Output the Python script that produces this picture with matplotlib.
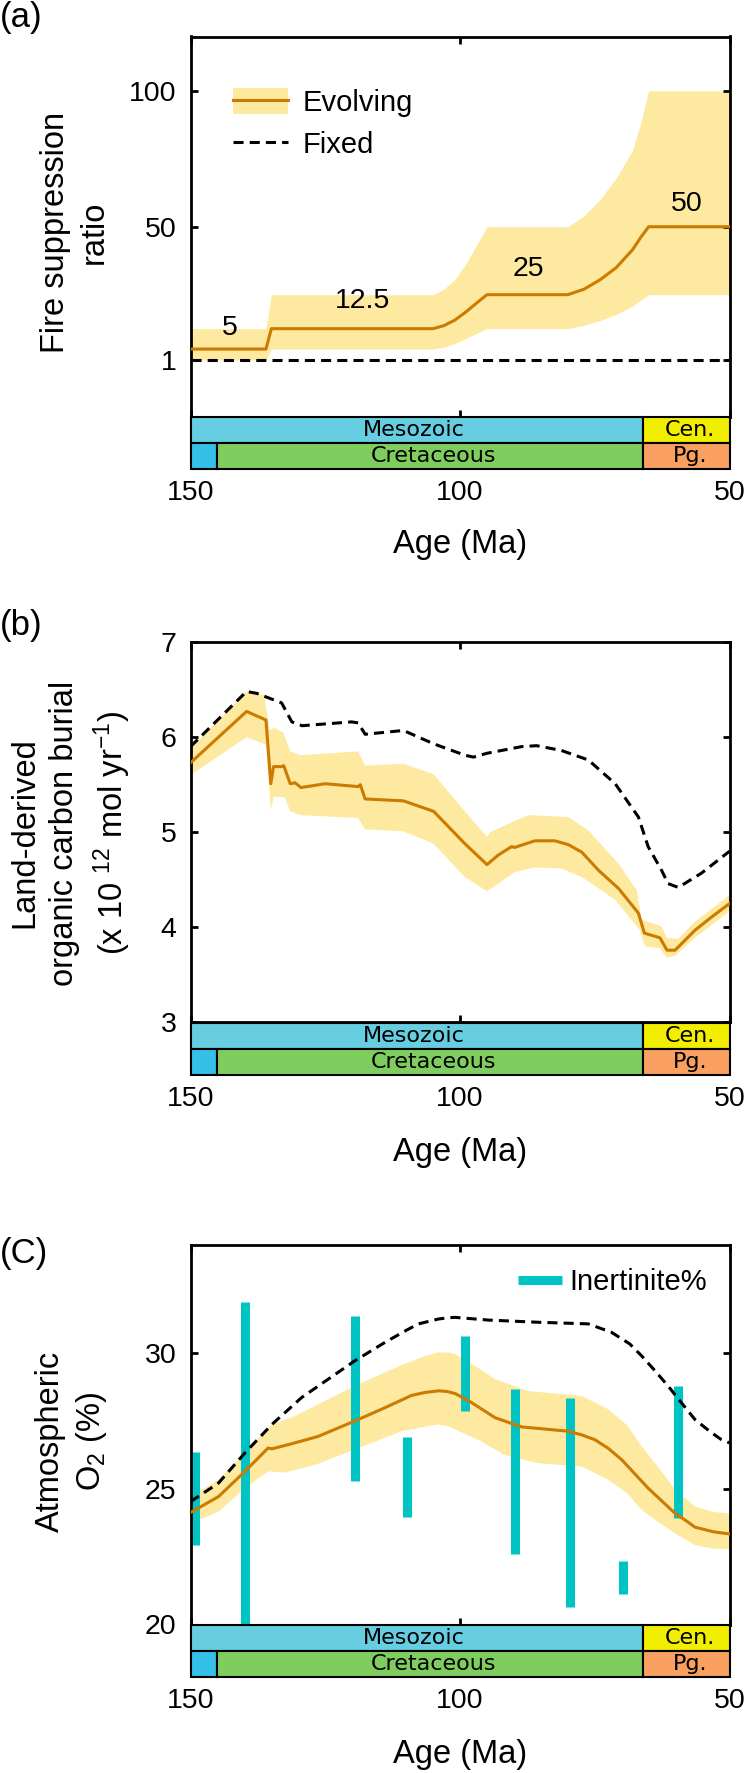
import numpy as np
import matplotlib
matplotlib.use('Agg')
import matplotlib.pyplot as plt
from matplotlib.patches import Patch
from matplotlib.lines import Line2D

plt.rcParams['font.family'] = ['Liberation Sans', 'DejaVu Sans']
plt.rcParams['mathtext.fontset'] = 'custom'
plt.rcParams['mathtext.rm'] = 'Liberation Sans'
plt.rcParams['mathtext.it'] = 'Liberation Sans:italic'
plt.rcParams['mathtext.default'] = 'regular'

# ---- colours
c_line = '#CC7A00'
c_band = '#FDE9A0'
c_inert = '#00C4C4'

# ---- panel (a): fire suppression ratio
a_age = [150, 136, 135, 105, 103, 101, 99, 97, 95, 80, 77, 74, 71, 68, 66.5, 65, 50]
a_mid = [5, 5, 12.5, 12.5, 13.6, 15.6, 18.5, 21.8, 25, 25, 27, 30.5, 35, 41.5, 46, 50, 50]
a_low = [1, 1, 5, 5, 5.7, 7.0, 8.8, 10.7, 12.5, 12.5, 13.8, 15.5, 17.8, 20.8, 23, 25, 25]
a_high = [12.5, 12.5, 25, 25, 27, 30.5, 36, 43, 50, 50, 54, 60, 68, 78, 88, 100, 100]
a_fix_age = [150, 50]
a_fix = [1, 1]
a_note_txt = ['5', '12.5', '25', '50']
a_note_age = [142.7, 118.1, 87.3, 58.0]
a_note_val = [12.8, 22.6, 34.4, 58.4]

# ---- panel (b): land-derived organic carbon burial
b_age = [150, 139.6, 136, 135.1, 134.6, 133.1, 132.7, 131.5, 130.6, 129.5, 125, 118.9,
         118.5, 117.6, 110.5, 104.9, 99.1, 95.0, 92.9, 90.4, 89.9, 86.1, 82.4, 79.9,
         77.4, 74.3, 70.6, 66.9, 65.8, 62.9, 61.6, 60.1, 56.4, 53.3, 50]
b_mid = [5.73, 6.27, 6.18, 5.51, 5.69, 5.69, 5.70, 5.51, 5.52, 5.47, 5.51, 5.48,
         5.50, 5.35, 5.33, 5.22, 4.88, 4.66, 4.76, 4.85, 4.84, 4.91, 4.91, 4.87,
         4.79, 4.60, 4.41, 4.15, 3.94, 3.89, 3.76, 3.76, 3.97, 4.11, 4.25]
b_hi_age = [150, 139.6, 136.3, 135.3, 134.5, 132.8, 131.5, 129.6, 118.9, 117.6, 110.5,
            104.9, 99.1, 95.0, 94.4, 89.8, 87.3, 79.9, 76.2, 70.6, 67.2, 66.3, 62.6,
            61.6, 59.5, 56.4, 50]
b_hi = [5.88, 6.48, 6.44, 6.07, 6.10, 6.05, 5.85, 5.81, 5.85, 5.70, 5.72,
        5.61, 5.22, 4.95, 5.00, 5.12, 5.18, 5.16, 5.02, 4.67, 4.39, 4.08, 4.01,
        3.89, 3.88, 4.06, 4.34]
b_lo_age = [150, 139.6, 136, 135.1, 134.6, 132.5, 131.5, 129.5, 118.9, 117.6, 110.5,
            104.9, 99.1, 95.0, 92.9, 89.9, 86.1, 81.2, 77.4, 71.2, 66.6, 65.7, 62.9,
            61.6, 60.1, 56.4, 50]
b_lo = [5.60, 6.00, 5.92, 5.23, 5.37, 5.37, 5.22, 5.18, 5.15, 5.03, 5.01,
        4.88, 4.53, 4.38, 4.46, 4.58, 4.63, 4.62, 4.53, 4.29, 3.97, 3.80, 3.78,
        3.68, 3.70, 3.89, 4.17]
b_fix_age = [150, 139.6, 137.7, 133.1, 131.2, 129.3, 120.1, 118.9, 117.6, 110.5, 104.9,
             99.1, 97.5, 95.0, 88.6, 85.8, 81.2, 76.2, 71.2, 66.9, 65.1, 62.6, 61.4,
             59.5, 55.2, 50]
b_fix = [5.90, 6.48, 6.46, 6.36, 6.16, 6.12, 6.16, 6.15, 6.03, 6.07, 5.93,
         5.81, 5.79, 5.83, 5.90, 5.91, 5.86, 5.76, 5.51, 5.16, 4.85, 4.60, 4.46,
         4.42, 4.57, 4.80]
b_ylabel = ['Land-derived', 'organic carbon burial', '(x 10 $^{12}$ mol yr$^{-1}$)']

# ---- panel (c): atmospheric O2
c_age = [150, 144.8, 140.2, 135.6, 134.9, 131.2, 126.3, 118.9, 113.9, 109, 106.5, 104,
         102.5, 100.9, 99.1, 97.8, 93.5, 88.6, 79.9, 77.5, 75, 72.5, 70, 65.1, 60.1,
         58, 56.4, 53, 50]
c_mid = [24.13, 24.72, 25.59, 26.51, 26.48, 26.67, 26.94, 27.56, 28.0, 28.45, 28.56, 28.62,
         28.6, 28.52, 28.33, 28.18, 27.63, 27.29, 27.13, 27.0, 26.82, 26.5, 26.08, 25.03,
         24.10, 23.82, 23.59, 23.42, 23.34]
c_hi_age = [150, 144.8, 139.9, 134.9, 130.6, 118.9, 110.8, 106.5, 104, 102, 100.9, 97.2,
            93.5, 87.3, 77.4, 72.5, 69, 66.3, 63, 60.1, 56.4, 53, 50]
c_hi = [24.72, 25.34, 26.33, 27.38, 27.69, 28.86, 29.57, 29.9, 30.04, 30.03, 29.97, 29.54,
        29.05, 28.61, 28.43, 27.94, 27.35, 26.57, 25.75, 24.97, 24.35, 24.15, 24.10]
c_lo_age = [150, 144.8, 139.9, 135.6, 132.5, 126.3, 118.9, 110.8, 106.5, 104, 102,
            100.9, 96, 91.7, 85.5, 77.4, 72.5, 69, 66.3, 63, 60.1, 56.4, 53, 50]
c_lo = [23.73, 24.16, 25.03, 25.65, 25.60, 25.93, 26.51, 27.13, 27.3, 27.38, 27.3,
        27.20, 26.75, 26.25, 25.95, 25.83, 25.34, 24.85, 24.23, 23.75, 23.36, 22.93,
        22.8, 22.77]
c_fix_age = [150, 144.8, 139.9, 134.9, 129.4, 119.5, 113.9, 110, 107.7, 104, 102, 100.9,
             94.7, 85.5, 76.2, 71.9, 68.5, 66.3, 64, 61.4, 59, 56.4, 53.5, 51.5, 50]
c_fix = [24.53, 25.22, 26.33, 27.38, 28.37, 29.73, 30.41, 30.85, 31.09, 31.27, 31.32, 31.33,
         31.23, 31.15, 31.09, 30.78, 30.35, 29.91, 29.4, 28.80, 28.2, 27.56, 27.1, 26.82,
         26.70]
inert_age = [149.1, 139.8, 119.4, 109.8, 99.0, 89.8, 79.6, 69.8, 59.6]
inert_lo = [22.93, 20.0, 25.28, 23.96, 27.87, 22.60, 20.64, 21.14, 23.92]
inert_hi = [26.38, 31.89, 31.39, 26.91, 30.63, 28.70, 28.35, 22.35, 28.78]

# ---- geological timescale (visible part)
era_name = ['Mesozoic', 'Cen.']
era_old = [150, 66]
era_young = [66, 50]
era_col = ['#67CDE0', '#F2EE00']
era_txt_x = [108.5, 57.3]
per_name = ['', 'Cretaceous', 'Pg.']
per_old = [150, 145, 66]
per_young = [145, 66, 50]
per_col = ['#35C0EA', '#80CD5F', '#F9A060']
per_txt_x = [147.5, 105.0, 57.3]

W, H = 750, 1773
fig = plt.figure(figsize=(W / 100, H / 100), dpi=100)

L = 190.5 / W
WD = (729.5 - 190.5) / W


def box(top, bottom):
    return [L, 1 - bottom / H, WD, (bottom - top) / H]


def main_axes(top, bottom):
    ax = fig.add_axes(box(top, bottom))
    ax.set_xlim(150, 50)
    ax.set_xticks([150, 100, 50])
    ax.set_xticklabels([])
    ax.tick_params(direction='in', length=5, width=2, top=True, right=True,
                   labelsize=20.5, pad=10)
    for s in ax.spines.values():
        s.set_linewidth(2)
    return ax


def timescale(top, bottom):
    ax = fig.add_axes(box(top, bottom))
    ax.set_xlim(150, 50)
    ax.set_ylim(0, 2)
    for n, o, y, c, tx in zip(era_name, era_old, era_young, era_col, era_txt_x):
        ax.barh(1.5, o - y, left=y, height=1, color=c, edgecolor='black',
                linewidth=1.5, clip_on=False)
        ax.text(tx, 1.5, n, ha='center', va='center', fontsize=16,
                family='DejaVu Sans')
    for n, o, y, c, tx in zip(per_name, per_old, per_young, per_col, per_txt_x):
        ax.barh(0.5, o - y, left=y, height=1, color=c, edgecolor='black',
                linewidth=1.5, clip_on=False)
        ax.text(tx, 0.5, n, ha='center', va='center', fontsize=16,
                family='DejaVu Sans')
    for s in ax.spines.values():
        s.set_visible(False)
    ax.set_yticks([])
    ax.set_xticks([150, 100, 50])
    ax.tick_params(axis='x', length=0, labelsize=20.5, pad=8)
    return ax


def band(ax, xa, ya, xb, yb):
    ax.fill(np.concatenate([xa, xb[::-1]]), np.concatenate([ya, yb[::-1]]),
            color=c_band, lw=0, zorder=1)


dash = (0, (3.3, 2))

# ---------------- (a)
ax = main_axes(36.5, 417)
ax.set_ylim(-20, 120)
ax.set_yticks([1, 50, 100])
ax.fill_between(a_age, a_low, a_high, color=c_band, lw=0, zorder=1)
ax.plot(a_age, a_mid, color=c_line, lw=2.2, zorder=3)
ax.plot(a_fix_age, a_fix, color='black', lw=2.2, ls=dash, zorder=4)
for t, x, y in zip(a_note_txt, a_note_age, a_note_val):
    ax.text(x, y, t, ha='center', va='center', fontsize=20.5)
h_evo = (Patch(color=c_band, lw=0), Line2D([], [], color=c_line, lw=2.2))
h_fix = Line2D([], [], color='black', lw=2.2, ls=dash)
ax.legend([h_evo, h_fix], ['Evolving', 'Fixed'], loc='center left',
          bbox_to_anchor=(0.079, 0.771), frameon=False, fontsize=21,
          handlelength=1.9, handleheight=1.0, handletextpad=0.5,
          labelspacing=0.45, borderpad=0, borderaxespad=0)
timescale(417, 468.7)
fig.text(75 / W, 1 - 232 / H, 'Fire suppression\nratio', rotation=90,
         ha='center', va='center', multialignment='center', fontsize=23.5,
         linespacing=1.3)
fig.text(460 / W, 1 - 545 / H, 'Age (Ma)', ha='center', va='center', fontsize=23.5)
fig.text(0, 1 - 18 / H, '(a)', ha='left', va='center', fontsize=25)

# ---------------- (b)
ax = main_axes(642, 1022.5)
ax.set_ylim(3, 7)
ax.set_yticks([3, 4, 5, 6, 7])
band(ax, b_hi_age, b_hi, b_lo_age, b_lo)
ax.plot(b_age, b_mid, color=c_line, lw=2.2, zorder=3)
ax.plot(b_fix_age, b_fix, color='black', lw=2.2, ls=dash, zorder=4)
timescale(1022.5, 1074.5)
for t, xc in zip(b_ylabel, [25, 65, 112]):
    fig.text(xc / W, 1 - 833 / H, t, rotation=90, ha='center', va='center',
             fontsize=23.5)
fig.text(460 / W, 1 - 1152 / H, 'Age (Ma)', ha='center', va='center', fontsize=23.5)
fig.text(0, 1 - 625 / H, '(b)', ha='left', va='center', fontsize=25)

# ---------------- (c)
ax = main_axes(1245, 1624.5)
ax.set_ylim(20, 34)
ax.set_yticks([20, 25, 30])
band(ax, c_hi_age, c_hi, c_lo_age, c_lo)
ax.vlines(inert_age, inert_lo, inert_hi, color=c_inert, lw=6.5,
          capstyle='butt', zorder=2)
ax.plot(c_age, c_mid, color=c_line, lw=2.2, zorder=3)
ax.plot(c_fix_age, c_fix, color='black', lw=2.2, ls=dash, zorder=4)
ax.legend([Line2D([], [], color=c_inert, lw=6.5, solid_capstyle='butt')],
          ['Inertinite%'], loc='center right', bbox_to_anchor=(0.958, 0.903),
          frameon=False, fontsize=21, handlelength=1.5, handletextpad=0.25,
          borderpad=0, borderaxespad=0)
timescale(1624.5, 1676.5)
fig.text(72 / W, 1 - 1441 / H, 'Atmospheric\nO$_2$ (%)', rotation=90,
         ha='center', va='center', multialignment='center', fontsize=23.5,
         linespacing=1.3)
fig.text(460 / W, 1 - 1755 / H, 'Age (Ma)', ha='center', va='center', fontsize=23.5)
fig.text(0, 1 - 1254 / H, '(C)', ha='left', va='center', fontsize=25)

fig.savefig('out.png', dpi=100)
